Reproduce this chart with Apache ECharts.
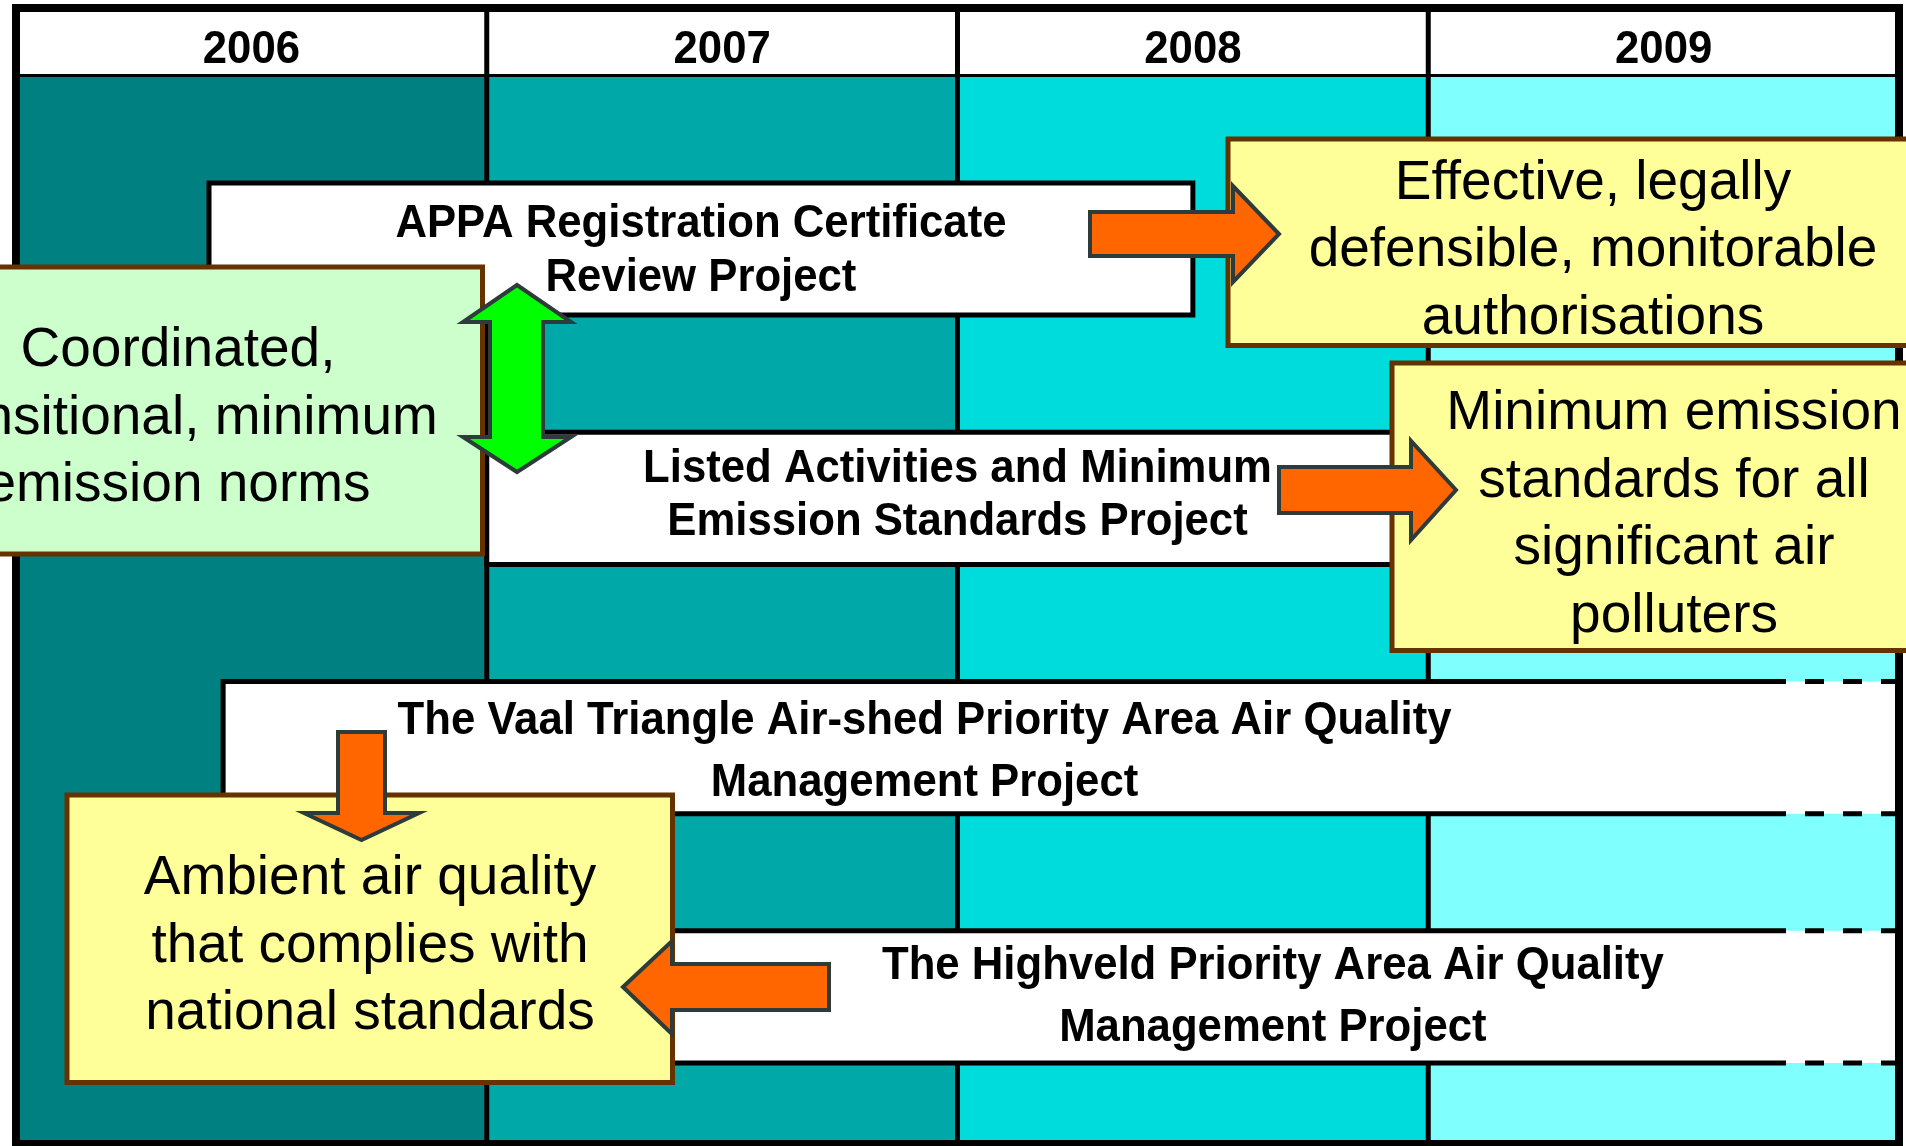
<!DOCTYPE html>
<html>
<head>
<meta charset="utf-8">
<script src="https://cdn.jsdelivr.net/npm/echarts@6/dist/echarts.min.js"></script>
<style>
html,body{margin:0;padding:0;background:#fff;}
#chart{width:1906px;height:1146px;}
</style>
</head>
<body>
<div id="chart"></div>
<script>
// ---- data ----
const years = ['2006', '2007', '2008', '2009'];
const taskNames = [
  'APPA Registration Certificate\nReview Project',
  'Listed Activities and Minimum\nEmission Standards Project',
  'The Vaal Triangle Air-shed Priority Area Air Quality\nManagement Project',
  'The Highveld Priority Area Air Quality\nManagement Project'
];
const taskStart = [2006.41, 2007.0, 2006.44, 2007.0];
const taskEnd = [2008.5, 2009.0, 2010, 2010];
const taskOngoing = [false, false, true, true];
const outcomes = [
  'Effective, legally\ndefensible, monitorable\nauthorisations',
  'Minimum emission\nstandards for all\nsignificant air\npolluters',
  'Coordinated,\ntransitional, minimum\nemission norms',
  'Ambient air quality\nthat complies with\nnational standards'
];

// ---- styles / layout ----
const columnColors = ['#008080', '#00A8A8', '#00DCDC', '#80FFFF'];
const labelAt = [null, null, 2007.93, 2008.67];
const labelLineHeight = [54, 53, 62, 62];
const labelShift = [2, -3, 5, 0];
const barFont = 'bold 46px "Liberation Sans", Arial, sans-serif';
const noteFont = '55px "Liberation Sans", Arial, sans-serif';
const arrowStroke = '#2E3B3B';
const noteBorder = '#663300';

const chart = echarts.init(document.getElementById('chart'), null, {renderer: 'canvas'});

function headerItem(params, api) {
  const i = params.dataIndex;
  const y0 = api.value(0);
  const a = api.coord([y0, 0]);
  const b = api.coord([y0 + 1, 0]);
  const cs = params.coordSys;
  const children = [
    {type: 'rect', shape: {x: a[0], y: cs.y, width: b[0] - a[0], height: cs.height}, style: {fill: '#ffffff'}},
    {type: 'text', x: (a[0] + b[0]) / 2, y: cs.y + 42, scaleX: 0.95,
      style: {text: years[i], x: 0, y: 0, textAlign: 'center', textVerticalAlign: 'middle', font: barFont, fill: '#000'}},
    {type: 'line', shape: {x1: a[0], y1: cs.y + cs.height, x2: b[0], y2: cs.y + cs.height}, style: {stroke: '#000', lineWidth: 6}}
  ];
  if (i > 0) children.push({type: 'line', shape: {x1: a[0], y1: cs.y, x2: a[0], y2: cs.y + cs.height}, style: {stroke: '#000', lineWidth: 5}});
  return {type: 'group', children};
}

function columnItem(params, api) {
  const i = params.dataIndex;
  const y0 = api.value(0);
  const a = api.coord([y0, 0]);
  const b = api.coord([y0 + 1, 0]);
  const cs = params.coordSys;
  const children = [
    {type: 'rect', shape: {x: a[0], y: cs.y, width: b[0] - a[0], height: cs.height}, style: {fill: columnColors[i]}}
  ];
  if (i > 0) children.push({type: 'line', shape: {x1: a[0], y1: cs.y, x2: a[0], y2: cs.y + cs.height}, style: {stroke: '#000', lineWidth: 5}});
  return {type: 'group', children};
}

function barItem(params, api) {
  const i = params.dataIndex;
  const s = api.value(0), e = api.value(1), row = api.value(2);
  const p0 = api.coord([s, row + 0.5]);
  const p1 = api.coord([e, row + 0.5]);
  const h = api.size([0, 0.53])[1];
  const top = p0[1] - h / 2, bot = p0[1] + h / 2;
  const children = [];
  if (taskOngoing[i]) {
    const dx = api.coord([2009.76, 0])[0];
    children.push({type: 'rect', shape: {x: p0[0], y: top, width: p1[0] - p0[0], height: h}, style: {fill: '#fff'}});
    children.push({type: 'polyline', shape: {points: [[dx, top], [p0[0], top], [p0[0], bot], [dx, bot]]}, style: {stroke: '#000', lineWidth: 5, fill: null}});
    children.push({type: 'line', shape: {x1: dx, y1: top, x2: p1[0], y2: top}, style: {stroke: '#000', lineWidth: 5, lineDash: [19, 19], lineDashOffset: 19}});
    children.push({type: 'line', shape: {x1: dx, y1: bot, x2: p1[0], y2: bot}, style: {stroke: '#000', lineWidth: 5, lineDash: [19, 19], lineDashOffset: 19}});
  } else {
    children.push({type: 'rect', shape: {x: p0[0], y: top, width: p1[0] - p0[0], height: h}, style: {fill: '#fff', stroke: '#000', lineWidth: 5}});
  }
  const lx = labelAt[i] != null ? api.coord([labelAt[i], 0])[0] : (p0[0] + p1[0]) / 2;
  children.push({type: 'text', x: lx, y: p0[1] + labelShift[i], scaleX: 0.95,
    style: {text: taskNames[i], x: 0, y: 0, textAlign: 'center', textVerticalAlign: 'middle', font: barFont, fill: '#000', lineHeight: labelLineHeight[i]}});
  return {type: 'group', children};
}

function note(x, y, w, h, fill, text, tx, ty) {
  return [
    {type: 'rect', z: 50, shape: {x, y, width: w, height: h}, style: {fill, stroke: noteBorder, lineWidth: 5}},
    {type: 'text', z: 51, style: {text, x: tx, y: ty, textAlign: 'center', textVerticalAlign: 'middle', font: noteFont, fill: '#000', lineHeight: 67.5}}
  ];
}
function arrow(points, fill) {
  return {type: 'polygon', z: 60, shape: {points}, style: {fill, stroke: arrowStroke, lineWidth: 4, lineJoin: 'miter'}};
}

const option = {
  animation: false,
  backgroundColor: '#ffffff',
  grid: [
    {left: 16, right: 7, top: 8, height: 69},
    {left: 16, right: 7, top: 77, bottom: 2}
  ],
  xAxis: [
    {gridIndex: 0, type: 'value', min: 2006, max: 2010, show: false},
    {gridIndex: 1, type: 'value', min: 2006, max: 2010, show: false}
  ],
  yAxis: [
    {gridIndex: 0, type: 'value', min: 0, max: 1, show: false},
    {gridIndex: 1, type: 'value', min: -0.19, max: 4.09, inverse: true, show: false}
  ],
  series: [
    {type: 'custom', xAxisIndex: 0, yAxisIndex: 0, z: 1, renderItem: headerItem, data: years.map(y => [+y])},
    {type: 'custom', xAxisIndex: 1, yAxisIndex: 1, z: 1, renderItem: columnItem, data: years.map(y => [+y])},
    {type: 'custom', xAxisIndex: 1, yAxisIndex: 1, z: 3, renderItem: barItem,
      data: taskNames.map((n, i) => [taskStart[i], taskEnd[i], i])}
  ],
  graphic: {
    elements: [
      {type: 'rect', z: 40, shape: {x: 16, y: 8, width: 1883, height: 1136}, style: {fill: null, stroke: '#000', lineWidth: 8}},
      ...note(1228, 139, 720, 206.5, '#FFFF99', outcomes[0], 1593, 251),
      ...note(1392, 363, 600, 287.5, '#FFFF99', outcomes[1], 1674, 515.5),
      ...note(-220, 267, 702.5, 287, '#CCFFCC', outcomes[2], 178, 418.5),
      ...note(67, 795, 605.5, 287.5, '#FFFF99', outcomes[3], 370, 946.5),
      arrow([[1090, 212], [1233, 212], [1233, 186], [1279, 234], [1233, 282], [1233, 256], [1090, 256]], '#FF6600'),
      arrow([[1279, 467], [1411, 467], [1411, 441], [1456, 490], [1411, 540], [1411, 513], [1279, 513]], '#FF6600'),
      arrow([[517, 285], [571, 322], [543, 322], [543, 437], [571, 437], [517, 472], [463, 437], [490, 437], [490, 322], [463, 322]], '#00FF00'),
      arrow([[338, 732], [385, 732], [385, 813], [419, 813], [361.5, 840], [304, 813], [338, 813]], '#FF6600'),
      arrow([[623, 987], [672, 941], [672, 964], [829, 964], [829, 1010], [672, 1010], [672, 1034]], '#FF6600')
    ]
  }
};
chart.setOption(option);
</script>
</body>
</html>
